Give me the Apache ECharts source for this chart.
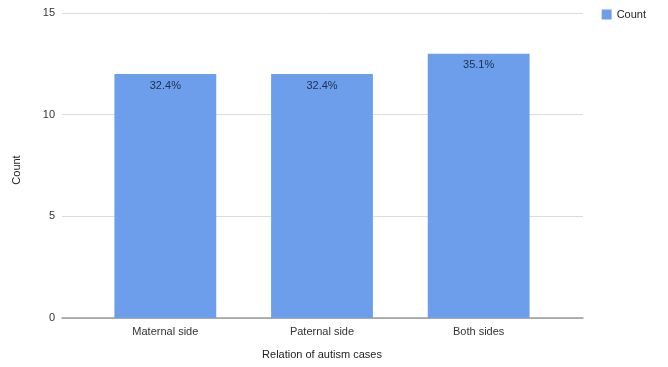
<!DOCTYPE html>
<html>
<head>
<meta charset="utf-8">
<script src="https://cdn.jsdelivr.net/npm/echarts@6/dist/echarts.min.js"></script>
<style>
  html, body { margin: 0; padding: 0; background: #fff; }
  #chart { width: 668px; height: 367px; }
</style>
</head>
<body>
<div id="chart"></div>
<script>
// Relation of autism cases: counts per family side
const categories = ['Maternal side', 'Paternal side', 'Both sides'];
const counts = [12, 12, 13];
const yTicks = [0, 5, 10, 15];

const total = counts.reduce((a, b) => a + b, 0);
const font = '"Liberation Sans", Arial, sans-serif';
const yMin = yTicks[0];
const yMax = yTicks[yTicks.length - 1];

const chart = echarts.init(document.getElementById('chart'), null, { renderer: 'canvas' });
chart.setOption({
  animation: false,
  backgroundColor: '#ffffff',
  textStyle: { fontFamily: font },
  legend: {
    right: 17,
    top: 4,
    itemWidth: 10,
    itemHeight: 10,
    icon: 'rect',
    itemGap: 5,
    textStyle: { fontSize: 11, color: '#222', fontFamily: font, padding: [0, 0, 0, 0] },
    data: ['Count']
  },
  // outer grid: gridlines, value labels and baseline; inner grid: padded category bands
  grid: [
    { left: 62, right: 85, top: 13, bottom: 49, containLabel: false },
    { left: 87, right: 111, top: 13, bottom: 49, containLabel: false }
  ],
  xAxis: [
    {
      gridIndex: 0,
      type: 'value',
      min: 0,
      max: 1,
      axisLine: { show: true, onZero: false, lineStyle: { color: '#999', width: 1.5 } },
      axisTick: { show: false },
      axisLabel: { show: false },
      splitLine: { show: false }
    },
    {
      gridIndex: 1,
      type: 'category',
      data: categories,
      name: 'Relation of autism cases',
      nameLocation: 'middle',
      nameGap: 31,
      nameTextStyle: { fontSize: 11, color: '#222', fontFamily: font },
      axisLine: { show: false },
      axisTick: { show: false },
      axisLabel: { fontSize: 11, color: '#333', margin: 8, fontFamily: font }
    }
  ],
  yAxis: [
    {
      gridIndex: 0,
      type: 'value',
      min: yMin,
      max: yMax,
      interval: 5,
      name: 'Count',
      nameLocation: 'middle',
      nameGap: 40,
      nameTextStyle: { fontSize: 11, color: '#222', fontFamily: font, padding: [0, 9, 0, 0] },
      axisLine: { show: false },
      axisTick: { show: false },
      axisLabel: { fontSize: 11, color: '#333', margin: 7, fontFamily: font },
      splitLine: { lineStyle: { color: '#dcdcdc', width: 1 } }
    },
    {
      gridIndex: 1,
      type: 'value',
      min: yMin,
      max: yMax,
      interval: 5,
      show: false,
      splitLine: { show: false }
    }
  ],
  series: [{
    name: 'Count',
    type: 'bar',
    xAxisIndex: 1,
    yAxisIndex: 1,
    data: counts,
    barWidth: '65%',
    z: 3,
    itemStyle: { color: '#6d9eeb' },
    label: {
      show: true,
      position: 'insideTop',
      distance: 6,
      fontSize: 11,
      color: '#1f2f4f',
      fontFamily: font,
      formatter: p => (p.value / total * 100).toFixed(1) + '%'
    }
  }]
});
</script>
</body>
</html>
